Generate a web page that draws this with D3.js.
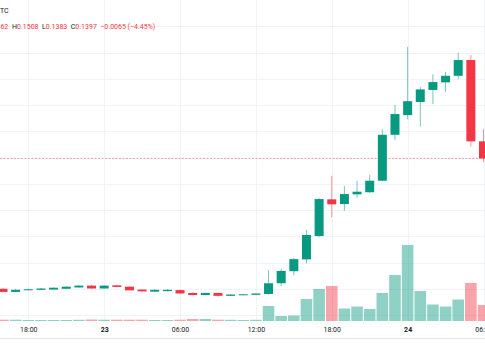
<!DOCTYPE html>
<html>
<head>
<meta charset="utf-8">
<script src="https://cdn.jsdelivr.net/npm/d3@7"></script>
<style>
  html, body { margin: 0; padding: 0; background: #ffffff; }
  svg { display: block; font-family: Roboto, "Noto Sans", sans-serif; }
</style>
</head>
<body>
<svg id="chart" width="485" height="360"></svg>
<script>
// ---- data (hourly candles, 22nd 16:00 -> 24th 06:00) ----
const opens  = [0.0900,0.0888,0.0896,0.0896,0.0897,0.0900,0.0905,0.0912,0.0901,0.0913,0.0908,0.0897,0.0889,0.0891,0.0895,0.0884,0.0876,0.0884,0.0873,0.0877,0.0877,0.0880,0.0921,0.0967,0.1012,0.1101,0.1241,0.1223,0.1260,0.1268,0.1312,0.1487,0.1562,0.1612,0.1658,0.1687,0.1712,0.1772,0.1462];
const highs  = [0.0902,0.0900,0.0900,0.0903,0.0906,0.0909,0.0915,0.0915,0.0914,0.0915,0.0909,0.0899,0.0898,0.0898,0.0897,0.0886,0.0885,0.0885,0.0880,0.0880,0.0883,0.0971,0.0976,0.1018,0.1124,0.1247,0.1331,0.1292,0.1311,0.1334,0.1508,0.1601,0.1822,0.1670,0.1718,0.1727,0.1800,0.1791,0.1508];
const lows   = [0.0886,0.0886,0.0895,0.0894,0.0896,0.0898,0.0904,0.0900,0.0900,0.0906,0.0893,0.0889,0.0888,0.0890,0.0880,0.0875,0.0875,0.0870,0.0872,0.0875,0.0876,0.0878,0.0910,0.0951,0.0997,0.1096,0.1172,0.1198,0.1247,0.1266,0.1310,0.1467,0.1546,0.1518,0.1604,0.1651,0.1699,0.1442,0.1383];
const closes = [0.0888,0.0896,0.0898,0.0901,0.0904,0.0908,0.0912,0.0901,0.0912,0.0907,0.0894,0.0890,0.0896,0.0896,0.0882,0.0876,0.0884,0.0873,0.0878,0.0879,0.0882,0.0921,0.0968,0.1013,0.1105,0.1242,0.1222,0.1261,0.1270,0.1312,0.1487,0.1566,0.1615,0.1660,0.1688,0.1712,0.1772,0.1462,0.1397];
const volumes = [65,65,50,50,50,50,60,75,65,65,65,65,50,50,65,100,100,65,60,50,60,750,250,275,1100,1600,1750,625,725,600,1400,2300,3800,1500,825,725,1075,1900,800];

const startTime = new Date(2024, 0, 22, 16);
const endTime   = new Date(2024, 0, 24, 6);
const times = d3.timeHour.range(startTime, d3.timeHour.offset(endTime, 1));

const tickTimes  = [new Date(2024,0,22,18), new Date(2024,0,23,0), new Date(2024,0,23,6), new Date(2024,0,23,12), new Date(2024,0,23,18), new Date(2024,0,24,0), new Date(2024,0,24,6)];
const tickLabels = ["18:00", "23", "06:00", "12:00", "18:00", "24", "06:00"];
const boldTicks  = ["23", "24"];

const priceGrid = [0.08,0.09,0.10,0.11,0.12,0.13,0.14,0.15,0.16,0.17,0.18,0.19];
const titleText = "TC";

// ---- styling ----
const UP = "#089981", DOWN = "#F23645";
const UP_VOL = "rgba(8,153,129,0.45)", DOWN_VOL = "rgba(242,54,69,0.45)";
const GRID = "#f0f3fa";
const TEXT = "#131722";

const W = 485, H = 360;
const plotBottom = 321;

const svg = d3.select("#chart");
svg.append("rect").attr("width", W).attr("height", H).attr("fill", "#fff");

const x = d3.scaleTime().domain([startTime, endTime]).range([3, 483.5]);
const y = d3.scaleLinear().domain([0.08, 0.18]).range([315.0, 52.7]);
const yv = d3.scaleLinear().domain([0, 3800]).range([plotBottom, 245]);

const candles = times.map((t, i) => ({t, o: opens[i], h: highs[i], l: lows[i], c: closes[i], v: volumes[i]}));

// grid
const grid = svg.append("g");
grid.selectAll("line.h").data(priceGrid).join("line")
  .attr("x1", 0).attr("x2", W)
  .attr("y1", d => Math.round(y(d)) + 0.5).attr("y2", d => Math.round(y(d)) + 0.5)
  .attr("stroke", GRID).attr("stroke-width", 1);
grid.selectAll("line.v").data(tickTimes).join("line")
  .attr("x1", d => Math.round(x(d)) + 0.5).attr("x2", d => Math.round(x(d)) + 0.5)
  .attr("y1", 0).attr("y2", plotBottom)
  .attr("stroke", GRID).attr("stroke-width", 1);

// volume
const volW = 11.6;
svg.append("g").selectAll("rect").data(candles).join("rect")
  .attr("x", d => x(d.t) - volW / 2)
  .attr("width", volW)
  .attr("y", d => yv(d.v))
  .attr("height", d => plotBottom - yv(d.v))
  .attr("fill", d => d.c >= d.o ? UP_VOL : DOWN_VOL);

// last price dashed line
const last = candles[candles.length - 1];
svg.append("line")
  .attr("x1", 0).attr("x2", W)
  .attr("y1", y(last.c)).attr("y2", y(last.c))
  .attr("stroke", DOWN).attr("stroke-opacity", 0.45)
  .attr("stroke-width", 1).attr("stroke-dasharray", "2,1.5");

// candles
const cg = svg.append("g");
cg.selectAll("line").data(candles).join("line")
  .attr("x1", d => x(d.t)).attr("x2", d => x(d.t))
  .attr("y1", d => y(d.h)).attr("y2", d => y(d.l))
  .attr("stroke", d => d.c >= d.o ? UP : DOWN)
  .attr("stroke-opacity", 0.55)
  .attr("stroke-width", 1);
const bodyW = 9;
cg.selectAll("rect").data(candles).join("rect")
  .attr("x", d => x(d.t) - bodyW / 2)
  .attr("width", bodyW)
  .attr("y", d => y(Math.max(d.o, d.c)))
  .attr("height", d => Math.max(1, Math.abs(y(d.o) - y(d.c))))
  .attr("fill", d => d.c >= d.o ? UP : DOWN);

// time axis
const axis = d3.axisBottom(x).tickValues(tickTimes)
  .tickFormat((d, i) => tickLabels[i]).tickSize(0).tickPadding(1.5);
const ag = svg.append("g").attr("transform", `translate(0,${326})`).call(axis);
ag.select(".domain").remove();
ag.selectAll("text")
  .attr("fill", TEXT)
  .style("font-size", "7px")
  .style("font-family", "Roboto, 'Noto Sans', sans-serif")
  .each(function(d, i) { if (boldTicks.includes(tickLabels[i])) d3.select(this).style("font-weight", "bold"); });

svg.append("line").attr("x1", 0).attr("x2", W).attr("y1", 338.5).attr("y2", 338.5)
  .attr("stroke", "#e0e3eb").attr("stroke-width", 1);

// header
svg.append("text").attr("x", 0).attr("y", 12.5)
  .attr("fill", TEXT).style("font-size", "7px").text(titleText);

const prevClose = candles[candles.length - 2].c;
const chg = last.c - prevClose;
const pct = chg / prevClose * 100;
const fmt = v => v.toFixed(4);
const signed = v => (v < 0 ? "\u2212" : "+") + Math.abs(v).toFixed(4);
const valColor = last.c >= last.o ? UP : DOWN;

const t1 = svg.append("text").attr("x", 8.3).attr("y", 28.5).attr("text-anchor", "end").style("font-size", "7px");
t1.append("tspan").attr("fill", TEXT).text("O");
t1.append("tspan").attr("fill", valColor).text(fmt(last.o));

const t2 = svg.append("text").attr("x", 12).attr("y", 28.5).style("font-size", "7px");
const parts = [["H", TEXT], [fmt(last.h), valColor], ["  L", TEXT], [fmt(last.l), valColor],
  ["  C", TEXT], [fmt(last.c), valColor],
  ["  " + signed(chg) + " (" + (pct < 0 ? "\u2212" : "+") + Math.abs(pct).toFixed(2) + "%)", valColor]];
parts.forEach(([s, c]) => t2.append("tspan").attr("fill", c).attr("xml:space", "preserve").text(s));
t2.attr("xml:space", "preserve");
</script>
</body>
</html>
